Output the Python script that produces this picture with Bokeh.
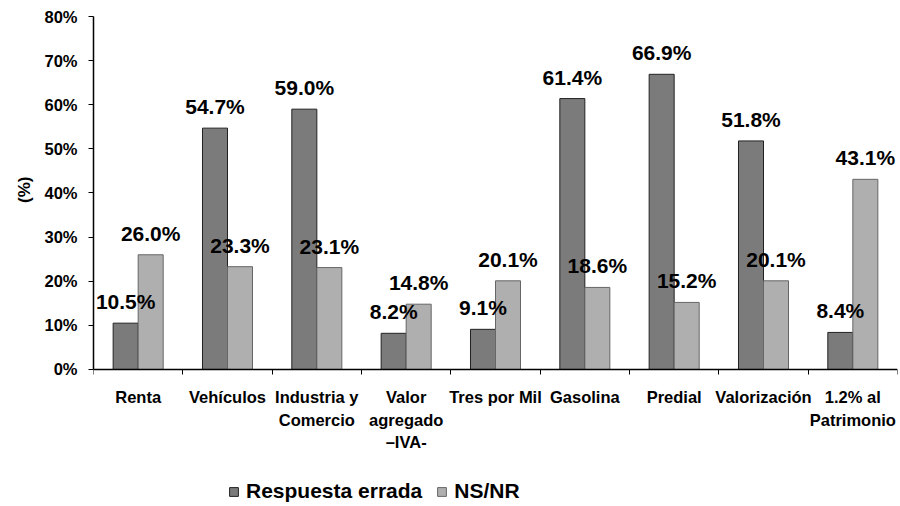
from bokeh.plotting import figure
from bokeh.models import (ColumnDataSource, LabelSet, FixedTicker, Legend, LegendItem,
                          Range1d, Title)
from bokeh.core.properties import value
from bokeh.embed import file_html
from bokeh.resources import INLINE

categories = ["Renta", "Vehículos", "Industria y\nComercio", "Valor\nagregado\n–IVA-",
              "Tres por Mil", "Gasolina", "Predial", "Valorización", "1.2% al\nPatrimonio"]
respuesta_errada = [10.5, 54.7, 59.0, 8.2, 9.1, 61.4, 66.9, 51.8, 8.4]
ns_nr = [26.0, 23.3, 23.1, 14.8, 20.1, 18.6, 15.2, 20.1, 43.1]
series_names = ["Respuesta errada", "NS/NR"]
y_ticks = [0, 10, 20, 30, 40, 50, 60, 70, 80]

FONT = "Liberation Sans"
BW = 0.28
centers = [i + 0.5 for i in range(len(categories))]

src_a = ColumnDataSource(dict(x=[c - BW / 2 for c in centers], top=respuesta_errada,
                              lab=["%.1f%%" % v for v in respuesta_errada]))
src_b = ColumnDataSource(dict(x=[c + BW / 2 for c in centers], top=ns_nr,
                              lab=["%.1f%%" % v for v in ns_nr]))

p = figure(width=900, height=506, output_backend="svg", toolbar_location=None,
           x_range=Range1d(0, len(categories)), y_range=Range1d(-31.05, 80),
           min_border_left=93, min_border_right=3, min_border_top=16, min_border_bottom=0)
p.outline_line_color = None
p.grid.grid_line_color = None
p.background_fill_color = "white"
p.border_fill_color = "white"

ra = p.vbar(x="x", top="top", width=BW, source=src_a, fill_color="#7b7b7b",
            line_color="#222222", line_width=1)
rb = p.vbar(x="x", top="top", width=BW, source=src_b, fill_color="#afafaf",
            line_color="#666666", line_width=1)

for src in (src_a, src_b):
    p.add_layout(LabelSet(x="x", y="top", text="lab", source=src, y_offset=10,
                          text_align="center", text_baseline="bottom",
                          text_font=value(FONT), text_font_style="bold",
                          text_font_size="21px", text_color="black"))

# x axis: drawn at y=0, labels at category centres, ticks at boundaries
xa = p.xaxis[0]
xa.fixed_location = 0
xa.ticker = FixedTicker(ticks=centers, minor_ticks=list(range(len(categories) + 1)))
xa.major_label_overrides = {c: lab for c, lab in zip(centers, categories)}
xa.major_tick_out = 0
xa.major_tick_in = 0
xa.minor_tick_out = 5
xa.minor_tick_in = 0
xa.minor_tick_line_color = "black"
xa.axis_line_color = "black"
xa.axis_line_width = 1.5
xa.major_label_text_font = FONT
xa.major_label_text_font_style = "bold"
xa.major_label_text_font_size = "16.5px"
xa.major_label_text_line_height = 1.25
xa.major_label_text_color = "black"
xa.major_label_standoff = 14

ya = p.yaxis[0]
ya.bounds = (0, 80)
ya.ticker = FixedTicker(ticks=y_ticks)
ya.major_label_overrides = {t: "%d%%" % t for t in y_ticks}
ya.minor_tick_line_color = None
ya.major_tick_out = 5
ya.major_tick_in = 0
ya.axis_line_color = "black"
ya.axis_line_width = 1.5
ya.major_label_text_font = FONT
ya.major_label_text_font_style = "bold"
ya.major_label_text_font_size = "16.5px"
ya.major_label_text_color = "black"
ya.major_label_standoff = 11

p.add_layout(Title(text="(%)", align="right", offset=160, standoff=16,
                   text_font=FONT, text_font_style="bold", text_font_size="17px",
                   text_color="black"), "left")

legend = Legend(items=[LegendItem(label=series_names[0], renderers=[ra]),
                       LegendItem(label=series_names[1], renderers=[rb])],
                orientation="horizontal", location=(135, 3), padding=2, margin=0,
                label_text_font=FONT, label_text_font_style="bold",
                label_text_font_size="21px", label_text_color="black",
                glyph_width=11, glyph_height=11,
                spacing=14, label_standoff=7, border_line_color=None,
                background_fill_alpha=0)
p.add_layout(legend, "center")

open("out.html", "w").write(file_html(p, INLINE))
